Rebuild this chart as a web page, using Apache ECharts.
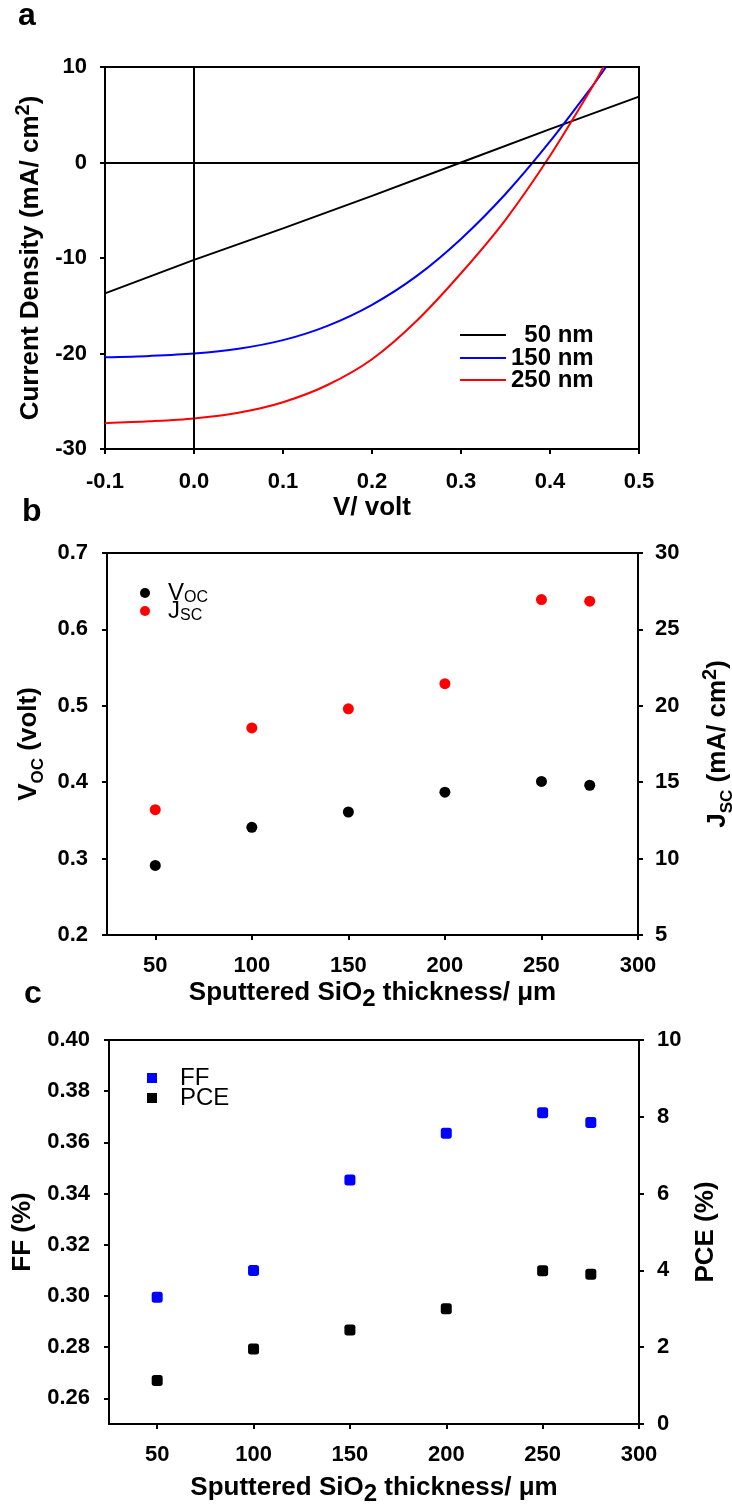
<!DOCTYPE html>
<html><head><meta charset="utf-8">
<script src="https://cdn.jsdelivr.net/npm/echarts@6/dist/echarts.min.js"></script>
<style>html,body{margin:0;padding:0;background:#fff}#c{width:732px;height:1506px}</style>
</head><body><div id="c"></div>
<script>
// ---------- Panel a: J-V curves ----------
const voltage50 = [-0.1, 0, 0.1, 0.2, 0.3, 0.4, 0.5];
const current50 = [-13.7, -10.2, -6.9, -3.5, 0, 3.5, 6.9];
const voltage150 = [-0.1, -0.05, 0, 0.05, 0.1, 0.15, 0.2, 0.25, 0.3, 0.35, 0.4, 0.45, 0.463];
const current150 = [-20.4, -20.25, -20.0, -19.5, -18.6, -17.1, -14.9, -11.9, -8.0, -3.3, 2.2, 8.3, 10];
const voltage250 = [-0.1, -0.05, 0, 0.05, 0.1, 0.15, 0.2, 0.25, 0.3, 0.35, 0.4, 0.45, 0.46];
const current250 = [-27.3, -27.1, -26.8, -26.2, -25.1, -23.3, -20.6, -16.6, -11.6, -6.0, 0.7, 8.3, 10];
// ---------- Panel b ----------
const thickness = [50, 100, 150, 200, 250, 275];
const vocValues = [0.291, 0.341, 0.361, 0.387, 0.401, 0.396];
const jscValues = [13.2, 18.55, 19.8, 21.45, 26.95, 26.85];
// ---------- Panel c ----------
const ffValues = [0.2995, 0.310, 0.3453, 0.3636, 0.3716, 0.3678];
const pceValues = [1.13, 1.95, 2.45, 3.0, 3.99, 3.9];
const thicknessTicks = [50, 100, 150, 200, 250, 300];
const ffTicks = [0.26, 0.28, 0.30, 0.32, 0.34, 0.36, 0.38, 0.40];

const FONT = '"Liberation Sans", Arial, Helvetica, sans-serif';
const zip = (xs, ys) => xs.map((x, i) => [x, ys[i]]);

function axisBase(extra) {
  return Object.assign({
    type: 'value',
    axisLine: { show: true, onZero: false, lineStyle: { color: '#000', width: 2 } },
    axisTick: { show: true, inside: false, length: 5, lineStyle: { color: '#000', width: 2 } },
    axisLabel: { color: '#000', fontSize: 22, fontWeight: 'bold', fontFamily: FONT },
    splitLine: { show: false },
    nameLocation: 'middle',
    nameTextStyle: { color: '#000', fontSize: 26, fontWeight: 'bold', fontFamily: FONT }
  }, extra);
}
function merge(a, b) { return Object.assign({}, a, b); }

const T = { fontSize: 26, fontWeight: 'bold', fontFamily: FONT, color: '#000', lineHeight: 36 };
const SUP = { fontSize: 20, fontWeight: 'bold', fontFamily: FONT, color: '#000', verticalAlign: 'top', lineHeight: 20 };
const SUB = { fontSize: 17, fontWeight: 'bold', fontFamily: FONT, color: '#000', verticalAlign: 'bottom', lineHeight: 14 };
const SUB2 = { fontSize: 24, fontWeight: 'bold', fontFamily: FONT, color: '#000', verticalAlign: 'bottom', lineHeight: 20 };

const xA = axisBase({ gridIndex: 0, min: -0.1, max: 0.5, interval: 0.1, name: 'V/ volt', nameGap: 46 });
xA.axisLabel = merge(xA.axisLabel, { margin: 22, formatter: v => (Math.abs(v) < 1e-9 ? 0 : v).toFixed(1) });
const yA = axisBase({ gridIndex: 0, min: -30, max: 10, interval: 10, nameGap: 46,
  name: '{t|Current Density (mA/ cm}{sup|2}{t|)}' });
yA.nameTextStyle = merge(yA.nameTextStyle, { rich: { t: T, sup: SUP } });
yA.axisLabel = merge(yA.axisLabel, { margin: 18 });

const xB = axisBase({ gridIndex: 1, min: 25, max: 300, nameGap: 40,
  name: '{t|Sputtered SiO}{sub|2}{t| thickness/ μm}' });
xB.nameTextStyle = merge(xB.nameTextStyle, { rich: { t: T, sub: SUB2 } });
xB.axisTick = merge(xB.axisTick, { customValues: thicknessTicks });
xB.axisLabel = merge(xB.axisLabel, { margin: 20, customValues: thicknessTicks });

const yB = axisBase({ gridIndex: 1, min: 0.2, max: 0.7, interval: 0.1, nameGap: 60,
  name: '{t|V}{sub|OC}{t| (volt)}' });
yB.nameTextStyle = merge(yB.nameTextStyle, { rich: { t: T, sub: SUB } });
yB.axisLabel = merge(yB.axisLabel, { margin: 19, formatter: v => v.toFixed(1) });

const yB2 = axisBase({ gridIndex: 1, position: 'right', min: 5, max: 30, interval: 5, nameGap: 62,
  name: '{t|J}{sub|SC}{t| (mA/ cm}{sup|2}{t|)}' });
yB2.nameTextStyle = merge(yB2.nameTextStyle, { rich: { t: T, sub: SUB, sup: SUP } });
yB2.axisLabel = merge(yB2.axisLabel, { margin: 17 });

const xC = axisBase({ gridIndex: 2, min: 25, max: 300, nameGap: 46,
  name: '{t|Sputtered SiO}{sub|2}{t| thickness/ μm}' });
xC.nameTextStyle = merge(xC.nameTextStyle, { rich: { t: T, sub: SUB2 } });
xC.axisTick = merge(xC.axisTick, { customValues: thicknessTicks });
xC.axisLabel = merge(xC.axisLabel, { margin: 20, customValues: thicknessTicks });

const yC = axisBase({ gridIndex: 2, min: 0.25, max: 0.40, name: 'FF (%)', nameGap: 72 });
yC.axisTick = merge(yC.axisTick, { customValues: ffTicks });
yC.axisLabel = merge(yC.axisLabel, { margin: 19, customValues: ffTicks, formatter: v => v.toFixed(2) });

const yC2 = axisBase({ gridIndex: 2, position: 'right', min: 0, max: 10, interval: 2, name: 'PCE (%)', nameGap: 32 });
yC2.axisLabel = merge(yC2.axisLabel, { margin: 18 });

const gridStyle = { show: true, borderColor: '#000', borderWidth: 2, backgroundColor: 'transparent',
  containLabel: false, outerBoundsMode: 'none' };

const legLine = (name, left, top, fmt) => ({
  data: [name], left: left, top: top, padding: 0, icon: 'rect', itemWidth: 46, itemHeight: 2,
  selectedMode: false, formatter: fmt || (n => n),
  textStyle: { color: '#000', fontSize: 24, fontWeight: 'bold', fontFamily: FONT }
});
const legMark = (name, icon, left, top, fmt, pad) => ({
  data: [name], left: left, top: top, padding: 0, icon: icon, itemWidth: 10, itemHeight: 10,
  selectedMode: false, formatter: fmt,
  textStyle: { color: '#000', fontSize: 24, fontFamily: FONT,
    rich: { n: { fontSize: 24, fontFamily: FONT, color: '#000', lineHeight: 26, padding: [0, 0, 0, pad] },
            s: { fontSize: 16, fontFamily: FONT, color: '#000', verticalAlign: 'bottom', lineHeight: 12 } } }
});

const option = {
  animation: false,
  backgroundColor: '#fff',
  grid: [
    merge(gridStyle, { left: 105, top: 67, width: 534, height: 382 }),
    merge(gridStyle, { left: 107, top: 553, width: 531, height: 382 }),
    merge(gridStyle, { left: 109, top: 1040, width: 530, height: 384 })
  ],
  xAxis: [xA, xB, xC],
  yAxis: [yA, yB, yB2, yC, yC2],
  legend: [
    legLine('50 nm', 460, 323, n => '  ' + n),
    legLine('150 nm', 460, 346),
    legLine('250 nm', 460, 368),
    legMark('Voc', 'circle', 140, 581, () => '{n|V}{s|OC}', 13),
    legMark('Jsc', 'circle', 140, 599, () => '{n|J}{s|SC}', 13),
    legMark('FF', 'rect', 147, 1066, () => '{n|FF}', 18),
    legMark('PCE', 'rect', 147, 1086, () => '{n|PCE}', 18)
  ],
  graphic: [
    { type: 'text', left: 18, top: 0, style: { text: 'a', fontSize: 32, fontWeight: 'bold', fontFamily: FONT, fill: '#000' } },
    { type: 'text', left: 22, top: 496, style: { text: 'b', fontSize: 32, fontWeight: 'bold', fontFamily: FONT, fill: '#000' } },
    { type: 'text', left: 24, top: 978, style: { text: 'c', fontSize: 32, fontWeight: 'bold', fontFamily: FONT, fill: '#000' } }
  ],
  series: [
    { name: '50 nm', type: 'line', xAxisIndex: 0, yAxisIndex: 0, data: zip(voltage50, current50),
      showSymbol: false, symbol: 'none', color: '#000', lineStyle: { color: '#000', width: 2 },
      markLine: { silent: true, symbol: 'none', label: { show: false },
        lineStyle: { color: '#000', width: 2, type: 'solid' },
        data: [{ xAxis: 0 }, { yAxis: 0 }] } },
    { name: '150 nm', type: 'line', xAxisIndex: 0, yAxisIndex: 0, data: zip(voltage150, current150),
      showSymbol: false, symbol: 'none', smooth: 0.3, color: '#0000ff',
      lineStyle: { color: '#0000ff', width: 2 } },
    { name: '250 nm', type: 'line', xAxisIndex: 0, yAxisIndex: 0, data: zip(voltage250, current250),
      showSymbol: false, symbol: 'none', smooth: 0.3, color: '#ff0000',
      lineStyle: { color: '#ff0000', width: 2 } },
    { name: 'Voc', type: 'scatter', xAxisIndex: 1, yAxisIndex: 1, data: zip(thickness, vocValues),
      symbol: 'circle', symbolSize: 11, itemStyle: { color: '#000', opacity: 1 } },
    { name: 'Jsc', type: 'scatter', xAxisIndex: 1, yAxisIndex: 2, data: zip(thickness, jscValues),
      symbol: 'circle', symbolSize: 11, itemStyle: { color: '#ff0000', opacity: 1 } },
    { name: 'FF', type: 'scatter', xAxisIndex: 2, yAxisIndex: 3, data: zip(thickness, ffValues),
      symbol: 'roundRect', symbolSize: 11, itemStyle: { color: '#0000ff', opacity: 1 } },
    { name: 'PCE', type: 'scatter', xAxisIndex: 2, yAxisIndex: 4, data: zip(thickness, pceValues),
      symbol: 'roundRect', symbolSize: 11, itemStyle: { color: '#000', opacity: 1 } }
  ]
};
const chart = echarts.init(document.getElementById('c'), null, { renderer: 'canvas' });
chart.setOption(option);
</script>
</body></html>
